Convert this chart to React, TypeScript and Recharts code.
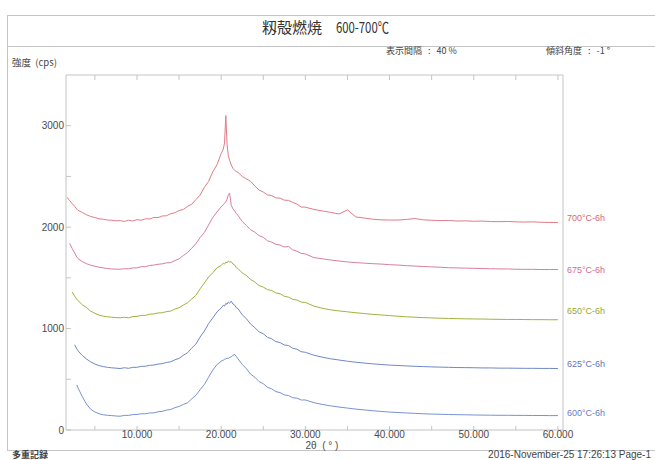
import React from "react"
import { LineChart, Line, XAxis, YAxis, ReferenceLine } from "recharts"

// 2θ positions (deg), shared by all five patterns
const twoTheta = [
  1.7, 2.0, 2.3, 2.6, 2.85,
  3.0, 3.5, 4.0, 4.5, 5.0, 5.5, 6.0, 6.5, 7.0, 7.5,
  8.0, 8.5, 9.0, 9.5, 10.0, 10.5, 11.0, 11.5, 12.0, 12.5,
  13.0, 13.5, 14.0, 14.5, 15.0, 15.5, 16.0, 16.5, 17.0, 17.5,
  18.0, 18.5, 19.0, 19.5, 20.0,
  20.25, 20.4, 20.55, 20.7, 20.85, 21.0, 21.2, 21.4, 21.6, 21.8,
  22.0, 22.5, 23.0, 23.5, 24.0, 24.5, 25.0, 25.5, 26.0, 26.5,
  27.0, 27.5, 28.0, 28.5, 29.0, 29.5, 30.0,
  31, 32, 33, 34, 35, 36, 37, 38, 39, 40,
  41, 42, 43, 44, 45, 46, 47, 48, 49, 50,
  51, 52, 53, 54, 55, 56, 57, 58, 59, 60,
]

// intensities as displayed (cps, stacked with 40% interval)
const s700 = [
  2295, 2262, 2232, 2205, 2178,
  2165, 2145, 2122, 2105, 2095, 2082, 2078, 2070, 2068, 2062,
  2064, 2056, 2068, 2060, 2074, 2068, 2082, 2080, 2096, 2094,
  2110, 2112, 2132, 2142, 2164, 2174, 2204, 2226, 2272, 2316,
  2392, 2450, 2545, 2615, 2725,
  2770, 2830, 3100, 2820, 2700, 2660, 2612, 2580, 2560, 2548,
  2540, 2500, 2476, 2452, 2406, 2366, 2346, 2318, 2312, 2288,
  2286, 2266, 2264, 2244, 2228, 2198, 2197,
  2175, 2160, 2145, 2130, 2170, 2100, 2090, 2078, 2072, 2070,
  2070, 2076, 2085, 2072, 2068, 2064, 2066, 2060, 2062, 2058,
  2060, 2055, 2054, 2056, 2052, 2050, 2052, 2048, 2046, 2045,
]

const s675 = [
  null, 1840, 1790, 1745, 1705,
  1690, 1660, 1640, 1625, 1615, 1605, 1598, 1592, 1588, 1586,
  1585, 1590, 1590, 1598, 1598, 1610, 1610, 1622, 1626, 1634,
  1638, 1648, 1650, 1670, 1688, 1720, 1748, 1792, 1838, 1897,
  1947, 2020, 2095, 2150, 2200,
  2220, 2235, 2250, 2275, 2320, 2335, 2215, 2180, 2160, 2135,
  2115, 2056, 2016, 1974, 1950, 1916, 1900, 1866, 1852, 1831,
  1823, 1804, 1810, 1776, 1763, 1741, 1736,
  1700, 1688, 1676, 1666, 1657, 1650, 1645, 1640, 1636, 1630,
  1626, 1620, 1616, 1612, 1608, 1605, 1600, 1598, 1596, 1594,
  1592, 1590, 1588, 1588, 1585, 1584, 1584, 1582, 1582, 1582,
]

const s650 = [
  null, null, 1360, 1320, 1290,
  1275, 1235, 1207, 1172, 1150, 1132, 1122, 1116, 1112, 1108,
  1106, 1112, 1106, 1118, 1120, 1130, 1130, 1142, 1144, 1154,
  1156, 1167, 1172, 1192, 1206, 1232, 1254, 1292, 1328, 1392,
  1448, 1508, 1550, 1598, 1622,
  1645, 1636, 1655, 1648, 1666, 1656, 1660, 1636, 1628, 1600,
  1592, 1548, 1524, 1484, 1459, 1424, 1409, 1384, 1376, 1351,
  1344, 1318, 1310, 1288, 1282, 1261, 1258,
  1222, 1200, 1185, 1174, 1165, 1156, 1148, 1140, 1134, 1128,
  1122, 1116, 1112, 1108, 1105, 1102, 1100, 1098, 1096, 1095,
  1094, 1092, 1091, 1090, 1090, 1089, 1088, 1088, 1087, 1087,
]

const s625 = [
  null, null, null, 840, 800,
  780, 735, 700, 672, 650, 635, 625, 618, 613, 610,
  606, 614, 608, 618, 618, 628, 628, 638, 640, 650,
  654, 666, 672, 692, 706, 736, 761, 807, 848, 917,
  975, 1048, 1105, 1164, 1202,
  1230, 1222, 1248, 1240, 1262, 1250, 1270, 1242, 1232, 1205,
  1196, 1136, 1097, 1044, 1009, 968, 949, 914, 899, 871,
  862, 838, 833, 806, 796, 772, 766,
  738, 718, 702, 690, 678, 668, 660, 652, 646, 640,
  636, 632, 628, 625, 622, 620, 618, 616, 615, 614,
  612, 612, 610, 610, 609, 608, 608, 607, 607, 606,
]

const s600 = [
  null, null, null, null, 445,
  415, 330, 256, 205, 178, 160, 150, 145, 142, 138,
  136, 144, 144, 152, 153, 160, 160, 168, 169, 180,
  184, 196, 202, 220, 232, 252, 268, 307, 343, 397,
  448, 520, 590, 645, 678,
  688, 698, 700, 708, 706, 716, 720, 737, 745, 726,
  702, 646, 604, 551, 520, 478, 456, 421, 406, 378,
  369, 346, 340, 318, 314, 296, 296,
  270, 252, 238, 226, 216, 206, 198, 190, 183, 177,
  172, 168, 164, 160, 157, 155, 153, 151, 150, 148,
  147, 146, 145, 145, 144, 144, 143, 143, 142, 142,
]

const seriesNames = ["700°C-6h", "675°C-6h", "650°C-6h", "625°C-6h", "600°C-6h"]

const xTicks = [5, 10, 15, 20, 25, 30, 35, 40, 45, 50, 55, 60]
const yTicks = [0, 500, 1000, 1500, 2000, 2500, 3000]
const xDomain: [number, number] = [1.57, 60.6]
const yDomain: [number, number] = [0, 3500]

const series = [
  { key: "s700", name: seriesNames[0], values: s700, color: "#e07c88", text: "#dc6676", dy: -5 },
  { key: "s675", name: seriesNames[1], values: s675, color: "#d97ea0", text: "#d86a8e", dy: 0 },
  { key: "s650", name: seriesNames[2], values: s650, color: "#9fb43e", text: "#98a832", dy: -9 },
  { key: "s625", name: seriesNames[3], values: s625, color: "#6f88c6", text: "#5f78b8", dy: -5 },
  { key: "s600", name: seriesNames[4], values: s600, color: "#7892d2", text: "#6480c6", dy: -3 },
]

const data = twoTheta.map((t, i) => {
  const row: Record<string, number | null> = { t }
  series.forEach((s) => {
    row[s.key] = s.values[i]
  })
  return row
})

const FRAME = "#c4c4c4"
const AXIS = "#c4c4c4"
const NUM_FONT = "'Liberation Sans', Arial, sans-serif"
const JP_FONT = "'Noto Sans CJK JP', 'Noto Sans', sans-serif"
const PRE = { whiteSpace: "pre" as const }

const BottomTick = (props: any) => {
  const { x, y, payload } = props
  const v = payload.value
  return (
    <g>
      <line x1={x} x2={x} y1={y} y2={y - 4} stroke={AXIS} />
      {v % 10 === 0 && (
        <text x={x} y={y + 8} textAnchor="middle" fontSize={10} fill="#4a4a4a" fontFamily={NUM_FONT}>
          {v.toFixed(3)}
        </text>
      )}
    </g>
  )
}

const LeftTick = (props: any) => {
  const { x, y, payload } = props
  const v = payload.value
  return (
    <g>
      <line x1={x} x2={x + 5} y1={y} y2={y} stroke={AXIS} />
      {v % 1000 === 0 && (
        <text x={x - 2} y={y + 3.5} textAnchor="end" fontSize={10} fill="#4a4a4a" fontFamily={NUM_FONT}>
          {v}
        </text>
      )}
    </g>
  )
}

const endLabel = (s: (typeof series)[number]) => (props: any) => {
  const { x, y, index } = props
  if (index !== data.length - 1) return null
  return (
    <text x={x + 9} y={y + s.dy + 3} fontSize={9} fill={s.text} fontFamily={NUM_FONT}>
      {s.name}
    </text>
  )
}

export default function App() {
  return (
    <div style={{ position: "absolute", left: 0, top: 0, width: 655, height: 460, background: "#fff" }}>
      <LineChart width={655} height={460} data={data} margin={{ top: 75, right: 92, bottom: 10, left: 0 }}>
        <XAxis
          dataKey="t"
          type="number"
          domain={xDomain}
          allowDataOverflow
          ticks={xTicks}
          interval={0}
          height={20}
          tickSize={0}
          tickMargin={0}
          stroke={AXIS}
          tick={<BottomTick />}
        />
        <YAxis
          type="number"
          domain={yDomain}
          allowDataOverflow
          ticks={yTicks}
          interval={0}
          width={66}
          tickSize={0}
          tickMargin={0}
          stroke={AXIS}
          tick={<LeftTick />}
        />
        {/* plot frame: top border with inward ticks, right border */}
        <ReferenceLine y={yDomain[1]} stroke={AXIS} />
        <ReferenceLine x={xDomain[1]} stroke={AXIS} />
        {xTicks.map((t) => (
          <ReferenceLine
            key={"tt" + t}
            segment={[
              { x: t, y: yDomain[1] },
              { x: t, y: yDomain[1] - 50 },
            ]}
            stroke={AXIS}
          />
        ))}
        {series.map((s) => (
          <Line
            key={s.key}
            dataKey={s.key}
            type="linear"
            stroke={s.color}
            strokeWidth={1}
            dot={false}
            activeDot={false}
            isAnimationActive={false}
            label={endLabel(s)}
          />
        ))}
      </LineChart>
      <svg
        width={655}
        height={460}
        style={{ position: "absolute", left: 0, top: 0, pointerEvents: "none" }}
      >
        <line x1={7} x2={655} y1={15.5} y2={15.5} stroke={FRAME} />
        <line x1={7} x2={655} y1={46.5} y2={46.5} stroke={FRAME} />
        <line x1={7} x2={655} y1={450.5} y2={450.5} stroke={FRAME} />
        <line x1={7.5} x2={7.5} y1={15} y2={451} stroke={FRAME} />
        <text x={262} y={33} fontSize={15} fill="#333" fontFamily={JP_FONT} textLength={60} lengthAdjust="spacingAndGlyphs">
          籾殻燃焼
        </text>
        <text x={336} y={33} fontSize={15} fill="#333" fontFamily={JP_FONT} textLength={53} lengthAdjust="spacingAndGlyphs">
          600-700℃
        </text>
        <text x={386} y={54} fontSize={9} fill="#444" fontFamily={JP_FONT} style={PRE}>
          表示間隔   :   40 %
        </text>
        <text x={546} y={54} fontSize={9} fill="#444" fontFamily={JP_FONT} style={PRE}>
          傾斜角度   :   -1 °
        </text>
        <text x={12} y={66} fontSize={9.5} fill="#444" fontFamily={JP_FONT} style={PRE}>
          強度  (cps)
        </text>
        <text x={322} y={449} textAnchor="middle" fontSize={10} fill="#4a4a4a" fontFamily={NUM_FONT} style={PRE}>
          2θ  ( ° )
        </text>
        <text x={12} y={458} fontSize={9} fontWeight="bold" fill="#444" fontFamily={JP_FONT}>
          多重記録
        </text>
        <text x={651} y={458} textAnchor="end" fontSize={10} fill="#444" fontFamily={NUM_FONT}>
          2016-November-25 17:26:13 Page-1
        </text>
      </svg>
    </div>
  )
}
